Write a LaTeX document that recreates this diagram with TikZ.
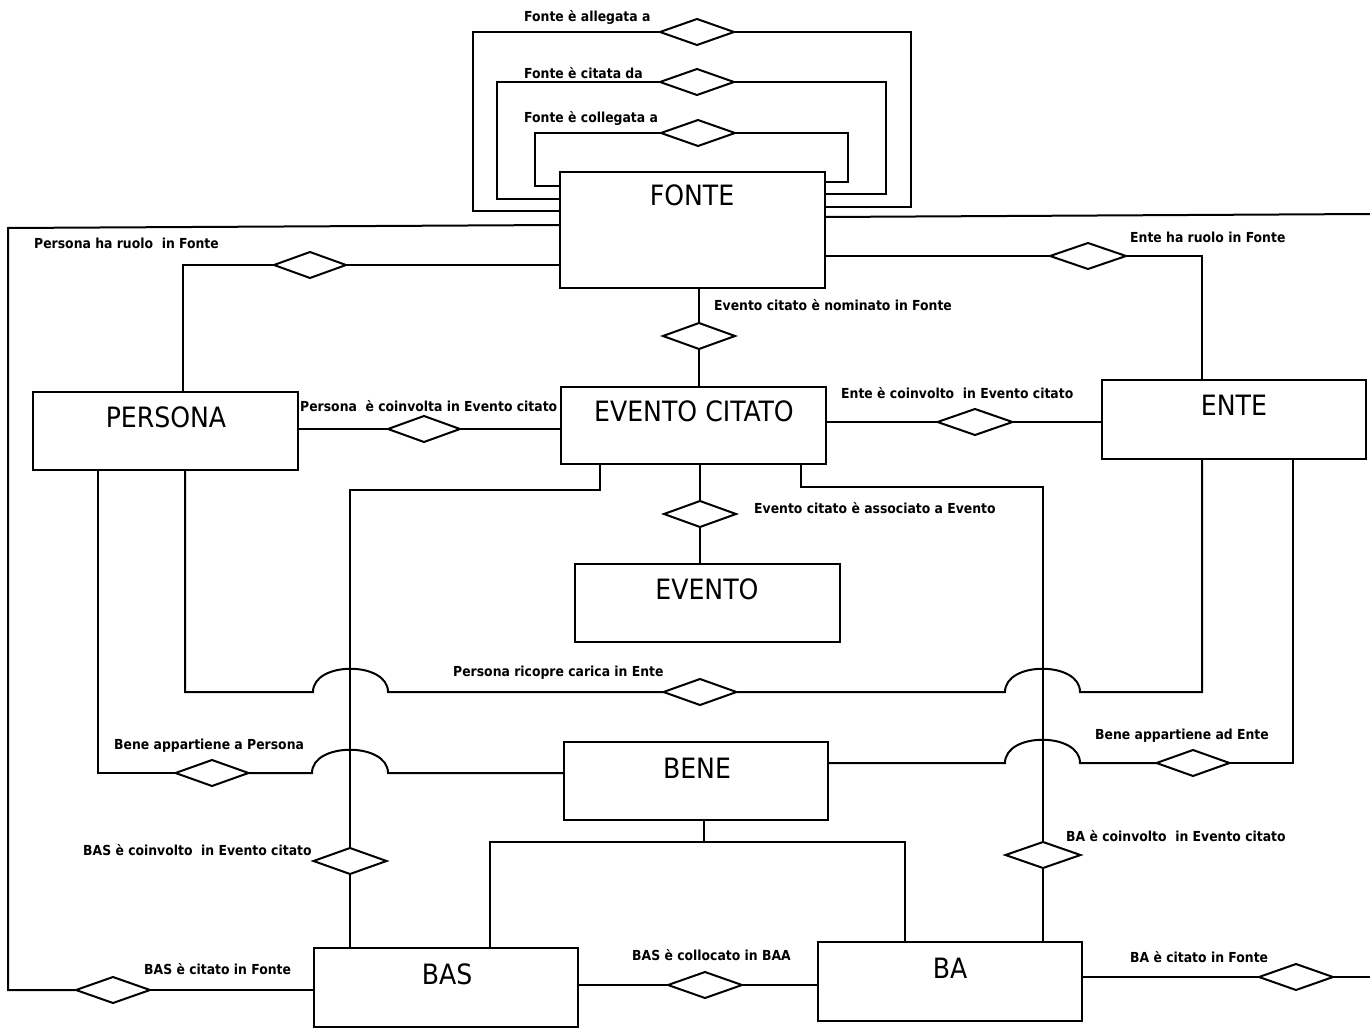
\documentclass[tikz,border=0pt]{standalone}
\usepackage{fontspec}
\setmainfont{DejaVu Sans Condensed}
\usetikzlibrary{shapes.geometric}
\newcommand{\entfont}{\fontsize{28}{32}\selectfont}
\newcommand{\relfont}{\fontsize{13.8}{16}\selectfont\bfseries}
\tikzset{
  ent/.style={draw, line width=2pt, minimum width=265pt, minimum height=78pt, inner sep=0pt, outer sep=0pt},
  rel/.style={draw, shape=diamond, line width=2pt, minimum width=72pt, minimum height=26pt, inner sep=0pt, outer sep=0pt, fill=white},
  etitle/.style={font=\entfont, anchor=base, inner sep=0pt},
  rlabel/.style={font=\relfont, anchor=base west, inner sep=0pt},
  conn/.style={line width=2pt, line join=miter}
}
\begin{document}
\begin{tikzpicture}[x=1pt, y=-1pt]
\useasboundingbox (0,0) rectangle (1370,1032);
\fill[white] (0,0) rectangle (1370,1032);

% entities
\node[ent, minimum height=116pt] (fonte) at (692.5,230) {};
\node[etitle] (fonteT) at (692,206) {FONTE};
\node[ent] (persona) at (165.5,431) {};
\node[etitle] (personaT) at (166,427) {PERSONA};
\node[ent, minimum height=77pt] (ec) at (693.5,425.5) {};
\node[etitle] (ecT) at (694,421) {EVENTO CITATO};
\node[ent, minimum width=264pt, minimum height=79pt] (ente) at (1234,419.5) {};
\node[etitle] (enteT) at (1234,415) {ENTE};
\node[ent] (evento) at (707.5,603) {};
\node[etitle] (eventoT) at (707,599) {EVENTO};
\node[ent, minimum width=264pt] (bene) at (696,781) {};
\node[etitle] (beneT) at (697,778) {BENE};
\node[ent, minimum width=264pt, minimum height=79pt] (bas) at (446,987.5) {};
\node[etitle] (basT) at (447,984) {BAS};
\node[ent, minimum width=264pt, minimum height=79pt] (ba) at (950,981.5) {};
\node[etitle] (baT) at (950,978) {BA};

% relationships
\node[rel, minimum width=74pt] (d1) at (697,32) {};
\node[rel, minimum width=74pt] (d2) at (697,82) {};
\node[rel, minimum width=74pt] (d3) at (698,133) {};
\node[rel] (d4) at (310,265) {};
\node[rel, minimum width=76pt] (d5) at (1088,256) {};
\node[rel] (d6) at (699,336) {};
\node[rel] (d7) at (424,429) {};
\node[rel, minimum width=75pt] (d8) at (975,422) {};
\node[rel] (d9) at (700,514) {};
\node[rel, minimum width=73pt] (d10) at (700,692) {};
\node[rel, minimum width=73pt] (d11) at (212,773) {};
\node[rel, minimum width=73pt] (d12) at (1193,763) {};
\node[rel, minimum width=73pt] (d13) at (350,861) {};
\node[rel, minimum width=75pt] (d14) at (1043,855) {};
\node[rel, minimum width=74pt] (d15) at (113,990) {};
\node[rel, minimum width=74pt] (d16) at (705,985) {};
\node[rel, minimum width=74pt] (d17) at (1296,977) {};

% labels
\node[rlabel] (l1) at (524,22) {Fonte è allegata a};
\node[rlabel] (l2) at (524,79) {Fonte è citata da};
\node[rlabel] (l3) at (524,123) {Fonte è collegata a};
\node[rlabel] (l4) at (34,249) {Persona ha ruolo\ \ in Fonte};
\node[rlabel] (l5) at (1130,243) {Ente ha ruolo in Fonte};
\node[rlabel] (l6) at (714,310) {Evento citato è nominato in Fonte};
\node[rlabel] (l7) at (300,411) {Persona\ \ è coinvolta in Evento citato};
\node[rlabel] (l8) at (841,398) {Ente è coinvolto\ \ in Evento citato};
\node[rlabel] (l9) at (754,513) {Evento citato è associato a Evento};
\node[rlabel] (l10) at (453,676) {Persona ricopre carica in Ente};
\node[rlabel] (l11) at (114,749) {Bene appartiene a Persona};
\node[rlabel] (l12) at (1095,739) {Bene appartiene ad Ente};
\node[rlabel] (l13) at (83,855) {BAS è coinvolto\ \ in Evento citato};
\node[rlabel] (l14) at (1066,841) {BA è coinvolto\ \ in Evento citato};
\node[rlabel] (l15) at (144,974) {BAS è citato in Fonte};
\node[rlabel] (l16) at (632,960) {BAS è collocato in BAA};
\node[rlabel] (l17) at (1130,962) {BA è citato in Fonte};

\coordinate (offR1) at (1370,214);
\coordinate (offR2) at (1370,977);

% self loops of FONTE
\draw[conn] (fonte.west |- 0,211) -- (473,211) -- (473,32) -- (d1.west);
\draw[conn] (d1.east) -- (911,32) -- (911,207) -- (fonte.east |- 0,207);
\draw[conn] (fonte.west |- 0,199) -- (497,199) -- (497,82) -- (d2.west);
\draw[conn] (d2.east) -- (886,82) -- (886,194) -- (fonte.east |- 0,194);
\draw[conn] (fonte.west |- 0,186) -- (535,186) -- (535,133) -- (d3.west);
\draw[conn] (d3.east) -- (848,133) -- (848,182) -- (fonte.east |- 0,182);

% BAS citato in Fonte (outer left)
\draw[conn] (fonte.west |- 0,225) -- (8,228) -- (8,990) -- (d15.west);
\draw[conn] (d15.east) -- (bas.west |- d15);
% BA citato in Fonte (outer right)
\draw[conn] (fonte.east |- 0,217) -- (offR1);
\draw[conn] (ba.east |- d17) -- (d17.west);
\draw[conn] (d17.east) -- (offR2);

% Persona ha ruolo in Fonte
\draw[conn] (fonte.west |- d4) -- (d4.east);
\draw[conn] (d4.west) -- (183,265) -- (persona.north -| 183,0);
% Ente ha ruolo in Fonte
\draw[conn] (fonte.east |- d5) -- (d5.west);
\draw[conn] (d5.east) -- (1202,256) -- (ente.north -| 1202,0);
% Evento citato nominato in Fonte
\draw[conn] (fonte.south -| d6) -- (d6.north);
\draw[conn] (d6.south) -- (ec.north -| d6);
% Persona coinvolta
\draw[conn] (persona.east |- d7) -- (d7.west);
\draw[conn] (d7.east) -- (ec.west |- d7);
% Ente coinvolto
\draw[conn] (ec.east |- d8) -- (d8.west);
\draw[conn] (d8.east) -- (ente.west |- d8);
% Evento citato associato a Evento
\draw[conn] (ec.south -| d9) -- (d9.north);
\draw[conn] (d9.south) -- (evento.north -| d9);
% BAS coinvolto in Evento citato
\draw[conn] (ec.south -| 600,0) -- (600,490) -- (350,490) -- (d13.north);
\draw[conn] (d13.south) -- (bas.north -| d13);
% BA coinvolto in Evento citato
\draw[conn] (ec.south -| 801,0) -- (801,487) -- (1043,487) -- (d14.north);
\draw[conn] (d14.south) -- (ba.north -| d14);
% Persona ricopre carica in Ente (with hops)
\draw[conn] (persona.south -| 185,0) -- (185,692) -- (313,692)
  .. controls (313,661) and (388,661) .. (388,692) -- (d10.west);
\draw[conn] (d10.east) -- (1005,692)
  .. controls (1005,661) and (1080,661) .. (1080,692) -- (1202,692) -- (ente.south -| 1202,0);
% Bene appartiene a Persona
\draw[conn] (persona.south -| 98,0) -- (98,773) -- (d11.west);
\draw[conn] (d11.east) -- (312,773)
  .. controls (312,742) and (388,742) .. (388,773) -- (bene.west |- 0,773);
% Bene appartiene ad Ente
\draw[conn] (bene.east |- 0,763) -- (1005,763)
  .. controls (1005,732) and (1080,732) .. (1080,763) -- (d12.west);
\draw[conn] (d12.east) -- (1293,763) -- (ente.south -| 1293,0);
% generalisation BENE -> BAS, BA
\draw[conn] (bene.south -| 704,0) -- (704,842);
\draw[conn] (bas.north -| 490,0) -- (490,842) -- (905,842) -- (ba.north -| 905,0);
% BAS collocato in BAA
\draw[conn] (bas.east |- d16) -- (d16.west);
\draw[conn] (d16.east) -- (ba.west |- d16);
\end{tikzpicture}
\end{document}
